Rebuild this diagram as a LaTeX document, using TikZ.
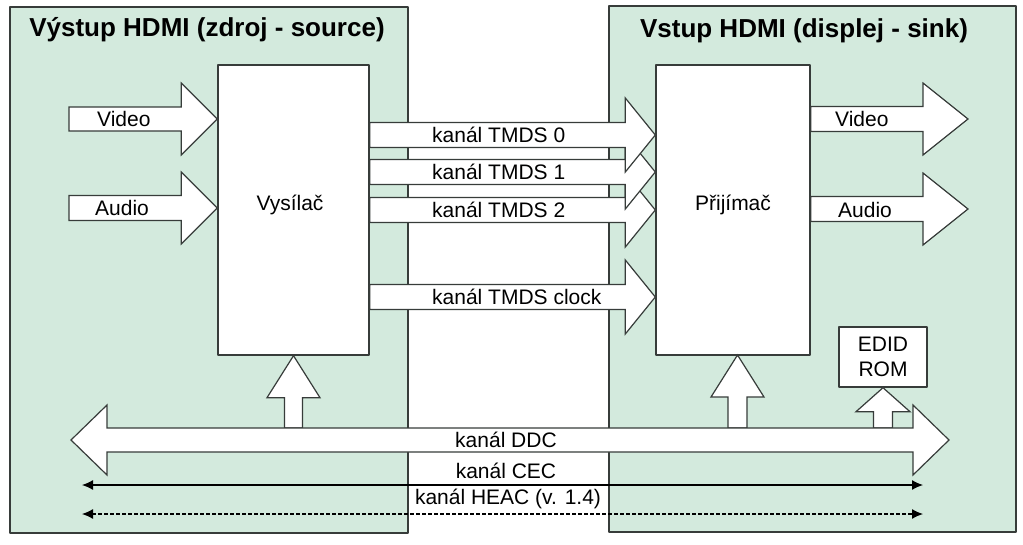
\documentclass[tikz,border=0pt]{standalone}
\usepackage{fontspec}
\setmainfont{Liberation Sans}
\usetikzlibrary{calc,arrows.meta}
\definecolor{panelgreen}{RGB}{211,234,221}
\definecolor{edge}{RGB}{55,60,58}
\tikzset{
  panel/.style={draw=edge, fill=panelgreen, line width=1.6pt},
  block/.style={draw=edge, fill=white, line width=1.4pt},
  fat/.style={draw=edge, fill=white, line width=1.2pt, line join=miter},
  lbl/.style={inner sep=0pt, font=\fontsize{21}{25}\selectfont},
  ttl/.style={inner sep=0pt, font=\fontsize{26}{30}\selectfont\bfseries},
  bus/.style={draw=black, line width=1.2pt, {Latex[length=11pt,width=10pt]}-{Latex[length=11pt,width=10pt]}},
}
% wide arrow: tail, tip, shaft half width, head half width, head length
\newcommand{\fatarrow}[5]{%
  \coordinate (fh) at ($(#2)!#5!(#1)$);
  \draw[fat] ($(#1)!#3!90:(#2)$) -- ($(fh)!#3!90:(#2)$) -- ($(fh)!#4!90:(#2)$) -- (#2)
    -- ($(fh)!#4!-90:(#2)$) -- ($(fh)!#3!-90:(#2)$) -- ($(#1)!#3!-90:(#2)$) -- cycle;}
% wide arrow with two heads
\newcommand{\fatboth}[5]{%
  \coordinate (fha) at ($(#1)!#5!(#2)$);
  \coordinate (fhb) at ($(#2)!#5!(#1)$);
  \draw[fat] (#1) -- ($(fha)!#4!90:(#2)$) -- ($(fha)!#3!90:(#2)$) -- ($(fhb)!#3!-90:(#1)$)
    -- ($(fhb)!#4!-90:(#1)$) -- (#2) -- ($(fhb)!#4!90:(#1)$) -- ($(fhb)!#3!90:(#1)$)
    -- ($(fha)!#3!-90:(#2)$) -- ($(fha)!#4!-90:(#2)$) -- cycle;}
\begin{document}
\begin{tikzpicture}[x=1pt, y=-1pt, line join=round]
\useasboundingbox (0,0) rectangle (1023,544);
% panels
\draw[panel] (10,7) rectangle (408,533);
\draw[panel] (609,6) rectangle (1016,532);
\node[ttl] (srct) at (207,30) {Výstup HDMI (zdroj - source)};
\node[ttl] (sinkt) at (804,31) {Vstup HDMI (displej - sink)};
% blocks
\node[block, minimum width=151, minimum height=290] (tx) at (293.5,210) {};
\node[lbl] (txl) at (290,205) {Vysílač};
\node[block, minimum width=154, minimum height=290] (rx) at (733,210) {};
\node[lbl] (rxl) at (733,205) {Přijímač};
\node[block, minimum width=88, minimum height=60, align=center, lbl, inner sep=0pt] (edid) at (883,357) {EDID\\ROM};
% TMDS channels
\foreach \y/\t [count=\i] in {297/kanál TMDS clock, 210/kanál TMDS 2, 172/kanál TMDS 1, 135/kanál TMDS 0} {
  \coordinate (tm\i-a) at (tx.east |- 0,\y);
  \coordinate (tm\i-b) at (rx.west |- 0,\y);
  \fatarrow{tm\i-a}{tm\i-b}{12.5pt}{37pt}{30pt}
  \node[lbl, anchor=west] (tm\i-l) at (432,\y) {\t};
}
% inputs and outputs
\coordinate (vin-a) at (69,119);
\coordinate (vin-b) at (tx.west |- vin-a);
\fatarrow{vin-a}{vin-b}{12pt}{36pt}{36pt}
\node[lbl, anchor=west] (vinl) at (97,119) {Video};
\coordinate (ain-a) at (69,208);
\coordinate (ain-b) at (tx.west |- ain-a);
\fatarrow{ain-a}{ain-b}{12.5pt}{36pt}{36pt}
\node[lbl, anchor=west] (ainl) at (95,208) {Audio};
\coordinate (vout-b) at (968,119);
\coordinate (vout-a) at (rx.east |- vout-b);
\fatarrow{vout-a}{vout-b}{12.5pt}{36pt}{45pt}
\node[lbl, anchor=west] (voutl) at (835,119) {Video};
\coordinate (aout-b) at (968,209);
\coordinate (aout-a) at (rx.east |- aout-b);
\fatarrow{aout-a}{aout-b}{12.5pt}{36pt}{45pt}
\node[lbl, anchor=west] (aoutl) at (838,210) {Audio};
% DDC and taps
\coordinate (txu) at (tx.south |- 0,428);
\fatarrow{txu}{tx.south}{9pt}{26.5pt}{42pt}
\coordinate (rxu-b) at (737.5,355);
\coordinate (rxu-a) at (737.5,428);
\fatarrow{rxu-a}{rxu-b}{9.5pt}{26.5pt}{42pt}
\coordinate (edu) at (edid.south |- 0,428);
\fatarrow{edu}{edid.south}{9.5pt}{27pt}{24pt}
\coordinate (ddc-a) at (71,440);
\coordinate (ddc-b) at (949,440);
\fatboth{ddc-a}{ddc-b}{12pt}{35pt}{36pt}
\node[lbl] (ddcl) at (506,440) {kanál DDC};
% CEC and HEAC
\coordinate (cec-a) at (82,485);
\coordinate (cec-b) at (923,485);
\draw[bus] (cec-a) -- (cec-b);
\node[lbl] (cecl) at (506,471) {kanál CEC};
\coordinate (heac-a) at (82,514);
\coordinate (heac-b) at (923,514);
\draw[bus, dash pattern=on 4pt off 2pt] (heac-a) -- (heac-b);
\node[lbl] (heacl) at (508,499) {kanál HEAC (v. 1.4)};
\end{tikzpicture}
\end{document}
